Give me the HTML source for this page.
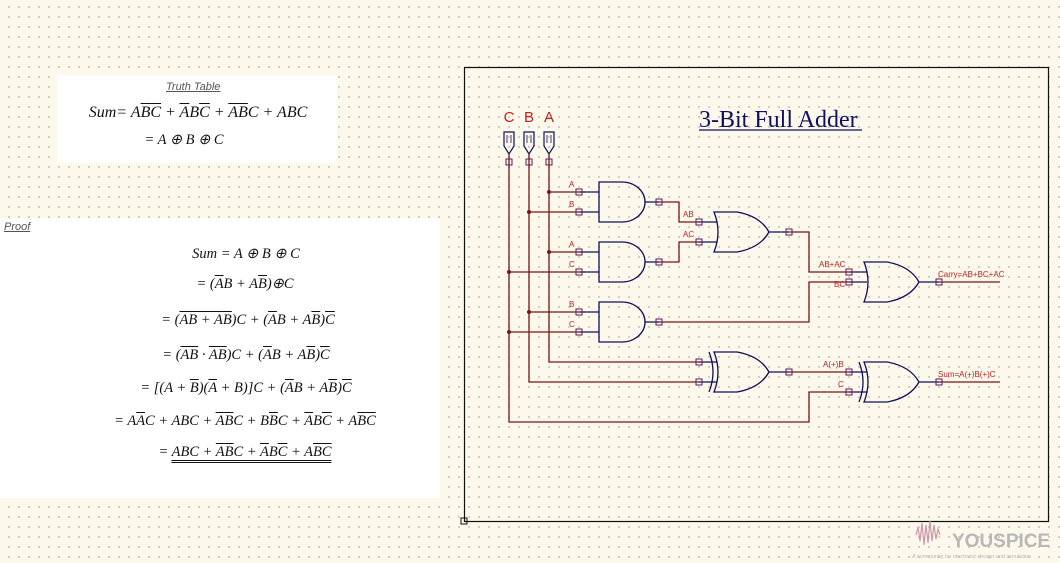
<!DOCTYPE html>
<html><head><meta charset="utf-8"><style>
html,body{margin:0;padding:0}
body{width:1060px;height:563px;position:relative;overflow:hidden;background-color:#fdf8ec;
background-image:radial-gradient(circle,#c9c3b4 0.8px,transparent 1.1px);background-size:10px 10px;background-position:4px 2px;
font-family:"Liberation Serif",serif}
.box{position:absolute;background:#fff}
.m{position:absolute;font-family:"Liberation Serif",serif;font-style:italic;font-size:14.5px;color:#111;white-space:nowrap;transform:translateX(-50%)}
.o{text-decoration:overline}
.h{font-family:"Liberation Sans",sans-serif;font-style:italic;font-size:11px;color:#555;text-decoration:underline;position:absolute}
</style></head><body>
<div class="box" style="left:57px;top:75px;width:280px;height:88px"></div>
<div class="box" style="left:0;top:218px;width:440px;height:280px"></div>
<div class="h" style="left:166px;top:81px">Truth Table</div>
<div class="m" style="left:198px;top:104px;font-size:16px">Sum= A<span class="o">B</span><span class="o">C</span> + <span class="o">A</span>B<span class="o">C</span> + <span class="o">A</span><span class="o">B</span>C + ABC</div>
<div class="m" style="left:184px;top:132px">= A ⊕ B ⊕ C</div>
<div class="h" style="left:4px;top:221px">Proof</div>
<div class="m" style="left:246px;top:246px">Sum = A ⊕ B ⊕ C</div>
<div class="m" style="left:245px;top:276px">= (<span class="o">A</span>B + A<span class="o">B</span>)⊕C</div>
<div class="m" style="left:248px;top:312px">= (<span class="o"><span class="o">A</span>B + A<span class="o">B</span></span>)C + (<span class="o">A</span>B + A<span class="o">B</span>)<span class="o">C</span></div>
<div class="m" style="left:246px;top:347px">= (<span class="o"><span class="o">A</span>B</span> · <span class="o">A<span class="o">B</span></span>)C + (<span class="o">A</span>B + A<span class="o">B</span>)<span class="o">C</span></div>
<div class="m" style="left:246px;top:380px">= [(A + <span class="o">B</span>)(<span class="o">A</span> + B)]C + (<span class="o">A</span>B + A<span class="o">B</span>)<span class="o">C</span></div>
<div class="m" style="left:245px;top:413px">= A<span class="o">A</span>C + ABC + <span class="o">A</span><span class="o">B</span>C + B<span class="o">B</span>C + <span class="o">A</span>B<span class="o">C</span> + A<span class="o">B</span><span class="o">C</span></div>
<div class="m" style="left:245px;top:444px">= <span style="border-bottom:3px double #111">ABC + <span class="o">A</span><span class="o">B</span>C + <span class="o">A</span>B<span class="o">C</span> + A<span class="o">B</span><span class="o">C</span></span></div>

<svg width="1060" height="563" style="position:absolute;left:0;top:0" xmlns="http://www.w3.org/2000/svg">
<rect x="464.5" y="67.5" width="584" height="454" fill="none" stroke="#111" stroke-width="1.2"/>
<rect x="461" y="518" width="6" height="6" fill="none" stroke="#111"/>
<text x="699" y="127" font-family="Liberation Serif" font-size="24" fill="#101060">3-Bit Full Adder</text>
<line x1="699" y1="130" x2="862" y2="130" stroke="#101060" stroke-width="1.2"/>
<g font-family="Liberation Sans" font-size="15" fill="#c02020" text-anchor="middle">
<text x="509" y="122">C</text><text x="529" y="122">B</text><text x="549" y="122">A</text></g>
<g fill="none" stroke="#10105a" stroke-width="1.2">
<path d="M504,132 h10 v14 l-5,8 l-5,-8 z M524,132 h10 v14 l-5,8 l-5,-8 z M544,132 h10 v14 l-5,8 l-5,-8 z"/>
<path d="M507,135v8M527,135v8M547,135v8M511,135v8M531,135v8M551,135v8" stroke-width="0.8"/>
</g>
<g fill="none" stroke="#7a1515" stroke-width="1.3">
<path d="M509,154V422H809V392H849"/>
<path d="M529,154V382H699"/>
<path d="M549,154V362H699"/>
<path d="M549,192H579M529,212H579M549,252H579M509,272H579M529,312H579M509,332H579"/>
<path d="M659,202H679V222H699M659,262H679V242H699"/>
<path d="M789,232H809V272H849M659,322H809V282H849"/>
<path d="M789,372H849M939,282H1000M939,382H1000"/>
</g>
<g fill="#7a1515"><circle cx="549" cy="192" r="2"/><circle cx="529" cy="212" r="2"/><circle cx="549" cy="252" r="2"/><circle cx="509" cy="272" r="2"/><circle cx="529" cy="312" r="2"/><circle cx="509" cy="332" r="2"/></g>
<g fill="none" stroke="#10105a" stroke-width="1.3">
<path d="M579,192H599M579,212H599M599,182H622A23,20 0 0 1 622,222H599Z M645,202H659"/>
<path d="M579,252H599M579,272H599M599,242H622A23,20 0 0 1 622,282H599Z M645,262H659"/>
<path d="M579,312H599M579,332H599M599,302H622A23,20 0 0 1 622,342H599Z M645,322H659"/>
<path d="M699,222H717M699,242H717M714,212H737Q760,216 769,232Q760,248 737,252H714Q722,232 714,212Z M769,232H789"/>
<path d="M849,272H867M849,282H867M864,262H887Q910,266 919,282Q910,298 887,302H864Q872,282 864,262Z M919,282H939"/>
<path d="M699,362H717M699,382H717M714,352H737Q760,356 769,372Q760,388 737,392H714Q722,372 714,352Z M709,352Q717,372 709,392 M769,372H789"/>
<path d="M849,372H867M849,392H867M864,362H887Q910,366 919,382Q910,398 887,402H864Q872,382 864,362Z M859,362Q867,382 859,402 M919,382H939"/>
</g>
<g fill="none" stroke="#5a1a5a" stroke-width="1">
<path d="M506,159h6v6h-6zM526,159h6v6h-6zM546,159h6v6h-6z"/>
<path d="M576,189h6v6h-6zM576,209h6v6h-6zM576,249h6v6h-6zM576,269h6v6h-6zM576,309h6v6h-6zM576,329h6v6h-6z"/>
<path d="M656,199h6v6h-6zM656,259h6v6h-6zM656,319h6v6h-6z"/>
<path d="M696,219h6v6h-6zM696,239h6v6h-6zM696,359h6v6h-6zM696,379h6v6h-6z"/>
<path d="M786,229h6v6h-6zM786,369h6v6h-6z"/>
<path d="M846,269h6v6h-6zM846,279h6v6h-6zM846,369h6v6h-6zM846,389h6v6h-6z"/>
<path d="M936,279h6v6h-6zM936,379h6v6h-6z"/>
</g>
<g font-family="Liberation Sans" font-size="8" fill="#c02020">
<text x="569" y="187">A</text><text x="569" y="207">B</text><text x="569" y="247">A</text><text x="569" y="267">C</text><text x="569" y="307">B</text><text x="569" y="327">C</text>
<text x="683" y="217">AB</text><text x="683" y="237">AC</text>
<text x="819" y="267">AB+AC</text><text x="834" y="287">BC</text>
<text x="938" y="277">Carry=AB+BC+AC</text>
<text x="823" y="367">A(+)B</text><text x="838" y="387">C</text>
<text x="938" y="377">Sum=A(+)B(+)C</text>
</g>
<path d="M916,535l2,-8l2,14l2,-18l2,22l2,-20l2,18l2,-22l2,20l2,-16l2,14l2,-10l2,6" stroke="#c9a" stroke-width="1.2" fill="none"/>
<text x="952" y="547" font-family="Liberation Sans" font-weight="bold" font-size="19" fill="#b8b8b8">YOUSPICE</text>
<text x="912" y="558" font-family="Liberation Sans" font-size="5.5" fill="#b8b8b8">A community for electronic design and simulation</text>
</svg>
</body></html>
